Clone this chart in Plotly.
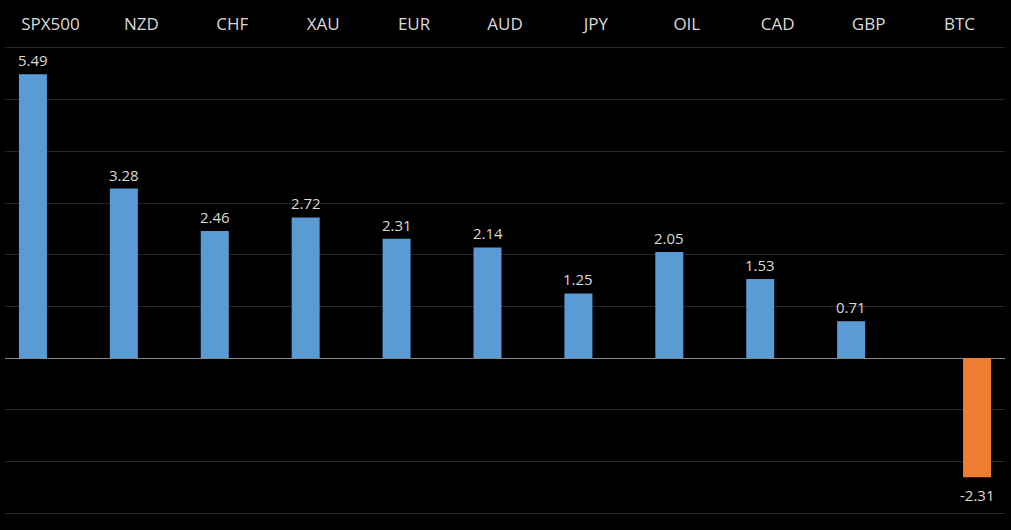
import plotly.graph_objects as go

categories = ["SPX500", "NZD", "CHF", "XAU", "EUR", "AUD", "JPY", "OIL", "CAD", "GBP", "BTC"]
gains = [5.49, 3.28, 2.46, 2.72, 2.31, 2.14, 1.25, 2.05, 1.53, 0.71, None]
losses = [None, None, None, None, None, None, None, None, None, None, -2.31]

BLUE = "#5b9bd5"
ORANGE = "#ed7d31"
TEXT = "#d9d9d9"
GRID = "#262626"
FONT = "Open Sans"

fig = go.Figure()
fig.add_trace(go.Bar(x=categories, y=gains, marker=dict(color=BLUE, line=dict(width=0)),
                     name="gain", hoverinfo="x+y"))
fig.add_trace(go.Bar(x=categories, y=losses, marker=dict(color=ORANGE, line=dict(width=0)),
                     name="loss", hoverinfo="x+y"))

annotations = []
for c, v in zip(categories, gains):
    if v is not None:
        annotations.append(dict(x=c, y=v, xref="x", yref="y", text=f"{v:.2f}", showarrow=False,
                                xshift=-17.5, yshift=2, yanchor="bottom",
                                font=dict(family=FONT, size=15, color=TEXT)))
for c, v in zip(categories, losses):
    if v is not None:
        annotations.append(dict(x=c, y=v, xref="x", yref="y", text=f"{v:.2f}", showarrow=False,
                                xshift=17.5, yshift=-6, yanchor="top",
                                font=dict(family=FONT, size=15, color=TEXT)))

fig.update_layout(
    width=1011, height=530,
    margin=dict(l=5, r=6, t=48, b=17),
    paper_bgcolor="#000000", plot_bgcolor="#000000",
    barmode="group", bargap=0.23, bargroupgap=0.2,
    showlegend=False,
    font=dict(family=FONT, color=TEXT),
    annotations=annotations,
    xaxis=dict(side="top", type="category", showgrid=False, zeroline=False,
               showline=True, mirror=True, linecolor=GRID, linewidth=1,
               ticks="outside", ticklen=10, tickcolor="rgba(0,0,0,0)",
               tickfont=dict(family=FONT, size=17, color=TEXT)),
    yaxis=dict(range=[-3, 6], dtick=1, showticklabels=False, showgrid=True,
               gridcolor=GRID, gridwidth=1, zeroline=True, zerolinecolor="#888888",
               zerolinewidth=1, showline=False, ticks=""),
)

fig.write_html("out.html", config={"displayModeBar": False},
               post_script="document.body.style.margin='0';document.body.style.background='#000';")
